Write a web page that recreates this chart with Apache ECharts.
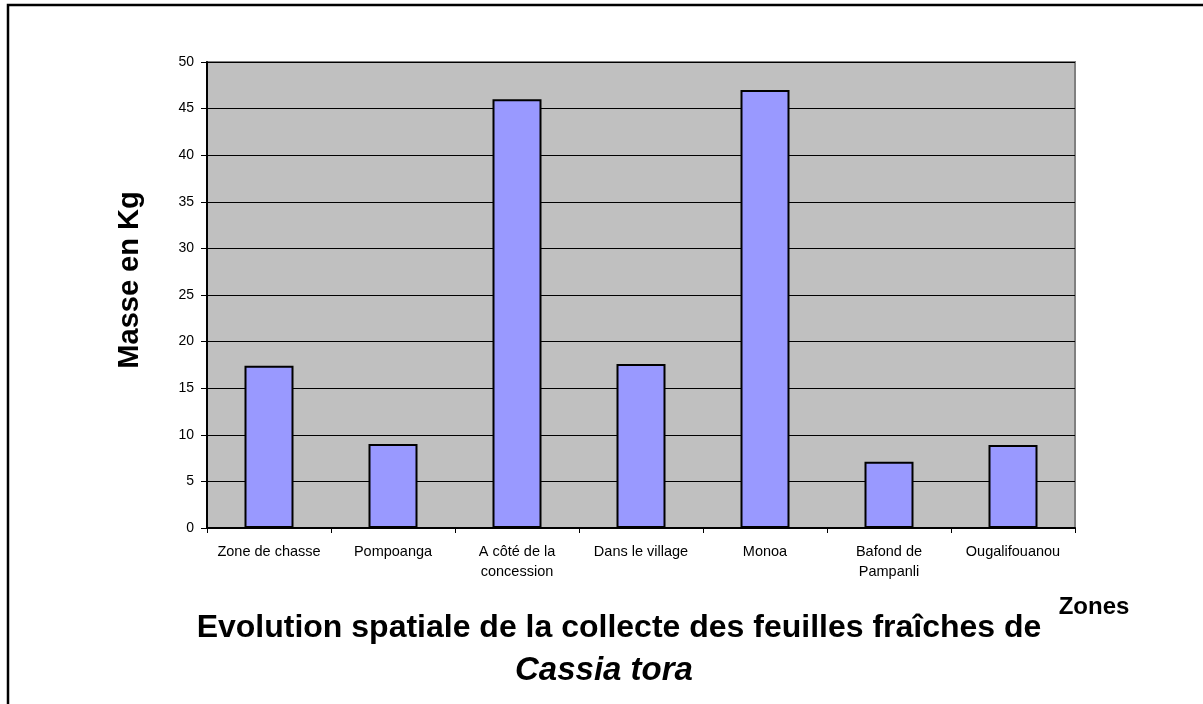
<!DOCTYPE html>
<html>
<head>
<meta charset="utf-8">
<script src="https://cdn.jsdelivr.net/npm/echarts@6/dist/echarts.min.js"></script>
<style>
  html, body { margin: 0; padding: 0; background: #fff; }
  #chart { width: 1203px; height: 704px; }
</style>
</head>
<body>
<div id="chart"></div>
<script>
const zones = [
  'Zone de chasse',
  'Pompoanga',
  'A côté de la\nconcession',
  'Dans le village',
  'Monoa',
  'Bafond de\nPampanli',
  'Ougalifouanou'
]
const masseKg = [17.4, 9.0, 46.0, 17.6, 47.0, 7.1, 8.9]
const titleLines = ['Evolution spatiale de la collecte des feuilles fraîches de', 'Cassia tora']
const xName = 'Zones'
const yName = 'Masse en Kg'

const font = '"Liberation Sans", Arial, sans-serif'
const chart = echarts.init(document.getElementById('chart'), null, { renderer: 'canvas' })

chart.setOption({
  animation: false,
  backgroundColor: '#fff',
  grid: {
    left: 207, right: 128, top: 62, bottom: 176,
    show: true,
    backgroundColor: '#C0C0C0',
    borderColor: '#808080',
    borderWidth: 2
  },
  xAxis: {
    type: 'category',
    data: zones,
    axisLine: { lineStyle: { color: '#000', width: 2 } },
    axisTick: { show: true, length: 5, lineStyle: { color: '#000', width: 1 } },
    axisLabel: {
      color: '#000', fontFamily: font, fontSize: 14.5,
      margin: 14, lineHeight: 20, interval: 0
    },
    splitLine: { show: false }
  },
  yAxis: {
    type: 'value',
    min: 0, max: 50, interval: 5,
    axisLine: { show: true, lineStyle: { color: '#000', width: 2 } },
    axisTick: { show: true, length: 6, lineStyle: { color: '#000', width: 1 } },
    axisLabel: { color: '#000', fontFamily: font, fontSize: 14, margin: 13 },
    splitLine: { show: true, lineStyle: { color: '#000', width: 1 } }
  },
  series: [{
    type: 'bar',
    data: masseKg,
    barWidth: 49,
    itemStyle: { color: '#9999FF', borderColor: '#000', borderWidth: 2 }
  }],
  graphic: [
    {
      type: 'rect', silent: true,
      shape: { x: 8, y: 5, width: 1400, height: 900 },
      style: { fill: 'none', stroke: '#000', lineWidth: 2.5 }
    },
    {
      type: 'text', x: 130, y: 280, rotation: Math.PI / 2,
      style: {
        text: yName, fill: '#000', font: 'bold 29px ' + font,
        textAlign: 'center', textVerticalAlign: 'middle'
      }
    },
    {
      type: 'text', x: 619, y: 628,
      style: {
        text: titleLines[0], fill: '#000', font: 'bold 32px ' + font,
        textAlign: 'center', textVerticalAlign: 'middle'
      }
    },
    {
      type: 'text', x: 604, y: 671,
      style: {
        text: titleLines[1], fill: '#000', font: 'italic bold 33px ' + font,
        textAlign: 'center', textVerticalAlign: 'middle'
      }
    },
    {
      type: 'text', x: 1094, y: 607,
      style: {
        text: xName, fill: '#000', font: 'bold 24px ' + font,
        textAlign: 'center', textVerticalAlign: 'middle'
      }
    }
  ]
})
</script>
</body>
</html>
